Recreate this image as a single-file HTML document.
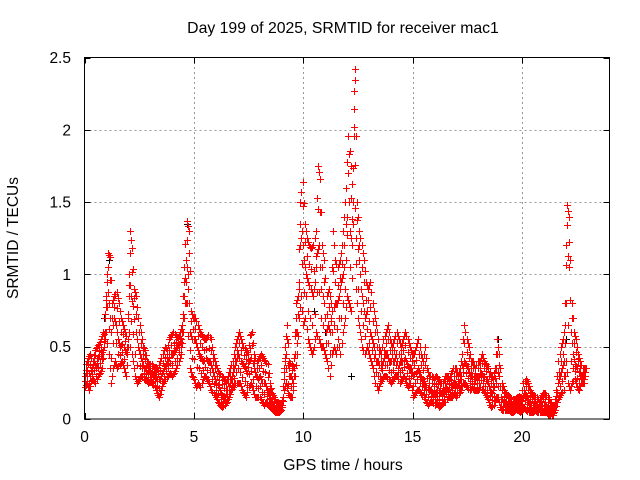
<!DOCTYPE html>
<html><head><meta charset="utf-8"><style>
body{margin:0;background:#fff}
svg{display:block;font-family:"Liberation Sans",sans-serif}
</style></head><body>
<svg id="chart" width="640" height="480" viewBox="0 0 640 480">
<rect width="640" height="480" fill="#fff"/>
<text x="343" y="33" font-size="15.8" text-anchor="middle">Day 199 of 2025, SRMTID for receiver mac1</text>
<text transform="translate(18,238) rotate(-90)" font-size="15.5" text-anchor="middle">SRMTID / TECUs</text>
<text x="343" y="470" font-size="15.7" text-anchor="middle">GPS time / hours</text>
<g id="grid"></g><g id="ticks"></g><g id="marks"></g>
<rect x="84.5" y="57.5" width="525" height="361.5" fill="none" stroke="#000" stroke-width="1"/>
</svg>
<script>
const xTicks=[0,5,10,15,20];
const yTicks=[0,0.5,1,1.5,2,2.5];
const yTickLabels=["0","0.5","1","1.5","2","2.5"];
const tStart=0, tStep=0.1;
const hiVals=[.38,.42,.45,.40,.48,.50,.52,.55,.60,.85,
1.15,1.12,.80,.85,.88,.80,.70,.65,.60,.55,
1.30,1.18,.90,.85,.70,.60,.50,.48,.40,.38,
.38,.35,.36,.34,.40,.45,.50,.48,.55,.58,
.60,.58,.55,.60,.65,1.05,1.37,1.30,.75,.70,
.70,.65,.60,.58,.55,.55,.58,.55,.45,.40,
.35,.32,.30,.28,.25,.30,.35,.40,.50,.55,
.60,.55,.50,.48,.45,.58,.60,.45,.40,.42,
.45,.42,.40,.38,.25,.18,.15,.12,.12,.10,
.15,.50,.65,.40,.38,.35,.80,.85,1.50,1.64,
1.35,1.25,1.20,1.18,1.20,1.30,1.75,1.66,1.20,1.10,
.85,.90,.80,1.30,1.10,1.05,1.10,1.20,1.40,1.60,
1.96,1.75,1.50,2.42,1.50,1.30,1.20,1.10,.95,.90,
.95,.80,.70,.60,.50,.45,.55,.60,.65,.55,
.50,.55,.60,.55,.50,.55,.60,.55,.50,.45,
.45,.50,.55,.45,.40,.50,.35,.30,.30,.28,
.30,.28,.25,.25,.30,.30,.28,.32,.35,.35,
.30,.35,.45,.65,.55,.50,.40,.40,.35,.40,
.40,.45,.40,.38,.35,.30,.28,.35,.55,.45,
.25,.20,.18,.15,.15,.14,.14,.15,.16,.15,
.25,.28,.25,.20,.18,.15,.15,.12,.15,.18,
.18,.15,.12,.10,.08,.20,.40,.50,.55,.65,
1.48,1.40,.80,.60,.55,.45,.40,.35,.35];
const midVals=[.30,.34,.30,.36,.40,.35,.42,.45,.48,.70,
.95,.80,.60,.70,.65,.55,.50,.52,.48,.45,
1.0,.85,.78,.60,.50,.45,.40,.35,.35,.33,
.32,.30,.30,.28,.28,.32,.35,.38,.40,.45,
.45,.48,.50,.52,.55,.85,1.10,1.00,.60,.55,
.55,.50,.45,.42,.40,.42,.40,.40,.35,.30,
.25,.22,.18,.15,.15,.20,.25,.30,.35,.40,
.45,.40,.38,.35,.32,.40,.42,.35,.30,.28,
.30,.25,.25,.20,.17,.12,.10,.08,.08,.07,
.10,.35,.45,.30,.30,.25,.60,.60,1.20,1.30,
1.10,1.0,.95,.90,.85,.95,1.15,1.20,.90,.80,
.60,.65,.60,.75,.80,.80,.85,.95,1.00,1.10,
1.70,1.30,1.20,2.27,1.25,1.10,.90,.80,.70,.75,
.60,.55,.50,.40,.40,.35,.40,.45,.45,.40,
.40,.40,.45,.35,.40,.40,.42,.38,.35,.35,
.30,.32,.35,.30,.28,.25,.22,.20,.20,.18,
.18,.20,.18,.18,.20,.22,.20,.22,.25,.25,
.22,.25,.30,.40,.38,.35,.30,.30,.28,.30,
.30,.32,.30,.28,.25,.20,.18,.22,.35,.30,
.15,.12,.12,.10,.10,.10,.10,.10,.12,.10,
.15,.18,.15,.12,.10,.10,.10,.08,.10,.10,
.10,.08,.06,.05,.05,.12,.25,.30,.35,.40,
1.20,1.05,.60,.45,.38,.35,.30,.30,.30];
const loVals=[.22,.25,.20,.26,.28,.25,.30,.32,.35,.50,
.60,.45,.25,.35,.40,.35,.38,.40,.35,.30,
.70,.50,.40,.30,.25,.28,.30,.28,.27,.25,
.26,.25,.22,.18,.15,.20,.25,.28,.30,.32,
.30,.32,.35,.40,.45,.60,.80,.80,.35,.30,
.28,.22,.25,.22,.28,.30,.28,.25,.20,.18,
.15,.12,.10,.08,.10,.12,.15,.20,.22,.25,
.25,.25,.20,.18,.15,.22,.25,.20,.15,.15,
.15,.12,.10,.12,.10,.08,.06,.05,.05,.05,
.06,.20,.25,.18,.15,.15,.30,.45,.70,.85,
.65,.70,.55,.50,.45,.50,.60,.55,.50,.50,
.45,.40,.30,.45,.50,.45,.55,.45,.60,.70,
.85,.80,.75,2.02,.90,.70,.60,.50,.45,.50,
.45,.40,.35,.25,.20,.25,.28,.30,.30,.28,
.25,.28,.30,.30,.25,.28,.30,.25,.22,.25,
.15,.18,.20,.20,.18,.15,.12,.10,.12,.12,
.10,.12,.08,.10,.12,.12,.15,.15,.15,.18,
.15,.18,.20,.25,.25,.22,.20,.22,.20,.20,
.20,.22,.20,.18,.15,.12,.08,.10,.15,.15,
.08,.06,.06,.06,.06,.05,.05,.06,.06,.05,
.06,.08,.06,.05,.05,.05,.06,.05,.05,.05,
.05,.05,.03,.03,.03,.06,.12,.15,.18,.20,
.40,.25,.20,.25,.28,.22,.20,.25,.25];
const blackTimes=[0.9,1.1,4.7,10.5,11.0,12.2,18.9,22.0];
const blackVals=[0.7,1.1,1.35,0.75,0.6,0.3,0.55,0.55];

const X0=84.5,X1=609.5,Y0=419,Y1=57.5,XMAX=24,YMAX=2.5;
const sx=v=>X0+(X1-X0)*v/XMAX;
const sy=v=>Y0-(Y0-Y1)*v/YMAX;
const NS="http://www.w3.org/2000/svg";
const grid=document.getElementById('grid'),ticks=document.getElementById('ticks'),marks=document.getElementById('marks');
function mk(tag,attrs,parent){const e=document.createElementNS(NS,tag);for(const k in attrs)e.setAttribute(k,attrs[k]);parent.appendChild(e);return e;}
xTicks.forEach(t=>{
  const x=Math.round(sx(t))+0.5;
  if(t>0){const g=mk('line',{x1:x,x2:x,y1:Y0,y2:Y1,stroke:'#999','stroke-dasharray':'2,3'},grid);
  
  }
  const a=mk('line',{x1:x,x2:x,y1:Y0,y2:Y0-6,stroke:'#000'},ticks);
  
  
  const b=mk('line',{x1:x,x2:x,y1:Y1,y2:Y1+6,stroke:'#000'},ticks);
  
  
  const l=mk('text',{x:sx(t),y:442,'font-size':15.5,'text-anchor':'middle'},ticks);l.textContent=String(t);
  
  
});
yTicks.forEach((v,i)=>{
  const y=Math.round(sy(v))+0.5;
  if(v>0&&v<YMAX){const g=mk('line',{x1:X0,x2:X1,y1:y,y2:y,stroke:'#999','stroke-dasharray':'2,3'},grid);
  
  }
  const a=mk('line',{x1:X0,x2:X0+6,y1:y,y2:y,stroke:'#000'},ticks);
  
  
  const b=mk('line',{x1:X1,x2:X1-6,y1:y,y2:y,stroke:'#000'},ticks);
  
  
  const l=mk('text',{x:71,y:sy(v)+5.5,'font-size':15.5,'text-anchor':'end'},ticks);l.textContent=yTickLabels[i];
  
  
});
function plus(t,v,color,name){
  const x=Math.round(sx(t))+0.5,y=Math.round(sy(v))+0.5;
  const p=mk('path',{d:`M${x-3.5} ${y}h7M${x} ${y-3.5}v7`,stroke:color,'stroke-width':1,fill:'none'},marks);
  
  
}
blackTimes.forEach((t,i)=>plus(t,blackVals[i],'#000','black-point'));
[loVals,midVals,hiVals].forEach((arr,k)=>{
  arr.forEach((v,i)=>{
    const t=tStart+i*tStep+k*0.033;
    plus(t,v,'#f00','srmtid-point');
    const nv=i+1<arr.length?arr[i+1]:v;
    plus(t+0.05,(v+nv)/2,'#f00','srmtid-point');
  });
});
// fill the bands between series
loVals.forEach((v,i)=>{
  const t=tStart+i*tStep;
  plus(t+0.02,(v+midVals[i])/2,'#f00','srmtid-point');
  plus(t+0.07,(midVals[i]+hiVals[i])/2,'#f00','srmtid-point');
});
</script>
</body></html>
